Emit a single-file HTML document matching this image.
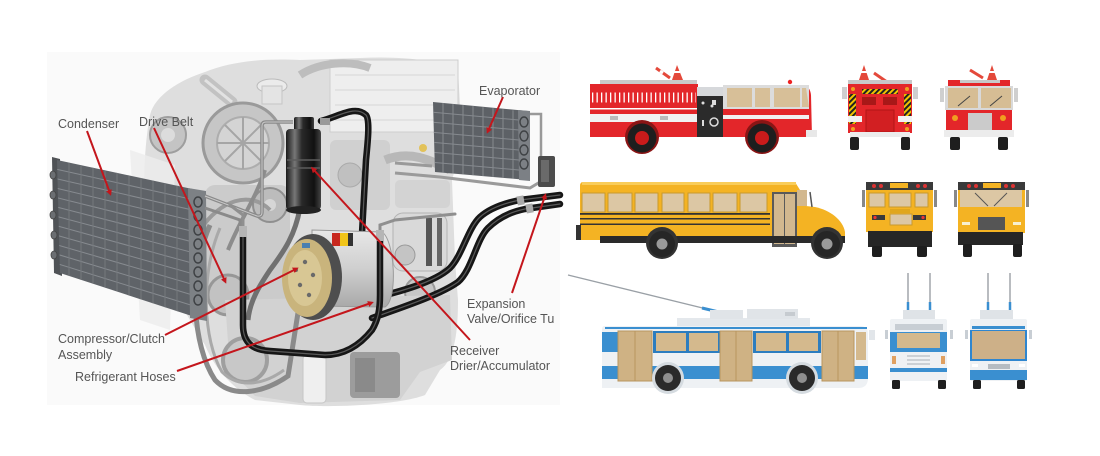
<!DOCTYPE html>
<html><head><meta charset="utf-8"><style>
html,body{margin:0;padding:0;background:#fff;}
svg{display:block;}
text{font-family:"Liberation Sans",sans-serif;font-size:12.5px;fill:#555;}
</style></head><body>
<svg width="1100" height="456" viewBox="0 0 1100 456" xmlns="http://www.w3.org/2000/svg">
<defs>
 <linearGradient id="rcv" x1="0" x2="1" y1="0" y2="0">
  <stop offset="0" stop-color="#1a1a1a"/><stop offset="0.25" stop-color="#777"/>
  <stop offset="0.45" stop-color="#2a2a2a"/><stop offset="0.8" stop-color="#111"/><stop offset="1" stop-color="#444"/>
 </linearGradient>
 <linearGradient id="comp" x1="0" x2="0" y1="0" y2="1">
  <stop offset="0" stop-color="#e8e8e8"/><stop offset="0.5" stop-color="#cfcfcf"/><stop offset="1" stop-color="#a9a9a9"/>
 </linearGradient>
 <pattern id="chev" width="4" height="4" patternUnits="userSpaceOnUse" patternTransform="rotate(45)">
  <rect width="4" height="4" fill="#f2c300"/><rect width="2" height="4" fill="#222"/>
 </pattern>
 <clipPath id="condClip"><polygon points="57,160 197,190 198,318 60,273"/></clipPath>
 <clipPath id="evapClip"><polygon points="433,102 520,111 520,179 435,172"/></clipPath>
 <marker id="ah" markerWidth="6" markerHeight="6" refX="3" refY="3" orient="auto" markerUnits="userSpaceOnUse">
  <path d="M0,0 L6,3 L0,6 Z" fill="#c4161c"/>
 </marker>
</defs>
<rect width="1100" height="456" fill="#fff"/>
<rect x="47" y="52" width="513" height="353" fill="#fafafa"/>

<!-- ===== ENGINE GHOST ===== -->
<path d="M150,115 C155,95 180,80 205,72 C230,62 260,58 300,60 L360,58 C400,56 440,60 458,70 L460,105 C462,130 458,160 452,180 L455,260 L458,300 C458,330 455,360 440,370 L425,395 C400,405 330,408 300,405 L255,400 C235,390 215,370 205,345 C190,320 165,280 150,240 C140,200 145,140 150,115 Z" fill="#dedede"/>
<path d="M130,150 L175,165 L170,330 L140,320 Z" fill="#ececec" opacity="0.8"/>
<rect x="330" y="60" width="128" height="72" fill="#eeeeee" stroke="#cdcdcd"/>
<g stroke="#d6d6d6"><line x1="335" y1="75" x2="455" y2="75"/><line x1="335" y1="90" x2="455" y2="90"/><line x1="335" y1="105" x2="455" y2="105"/><line x1="335" y1="120" x2="455" y2="120"/></g>
<path d="M300,75 C320,62 350,60 370,68" stroke="#bdbdbd" stroke-width="8" fill="none"/>
<path d="M205,80 L232,102" stroke="#c2c2c2" stroke-width="11" stroke-linecap="round"/>
<path d="M205,80 L232,102" stroke="#e2e2e2" stroke-width="3"/>
<circle cx="168" cy="135" r="18" fill="#c4c4c4" stroke="#9e9e9e" stroke-width="2"/>
<circle cx="168" cy="135" r="7" fill="#dcdcdc"/>
<circle cx="243" cy="143" r="40" fill="#c6c6c6" stroke="#9a9a9a" stroke-width="3"/>
<circle cx="243" cy="143" r="26" fill="#d4d4d4" stroke="#adadad" stroke-width="2"/>
<g stroke="#a5a5a5" stroke-width="2"><line x1="243" y1="117" x2="243" y2="169"/><line x1="217" y1="143" x2="269" y2="143"/><line x1="225" y1="125" x2="261" y2="161"/><line x1="261" y1="125" x2="225" y2="161"/></g>
<ellipse cx="272" cy="86" rx="15" ry="7" fill="#ebebeb" stroke="#bbb"/>
<rect x="262" y="86" width="20" height="18" fill="#e4e4e4" stroke="#c5c5c5"/>
<rect x="330" y="140" width="60" height="70" rx="6" fill="#d0d0d0"/>
<circle cx="350" cy="175" r="12" fill="#c0c0c0" stroke="#aaa"/>
<path d="M385,160 C410,150 430,160 450,170" stroke="#b8b8b8" stroke-width="9" fill="none"/>
<circle cx="423" cy="148" r="4" fill="#e2c25a"/>
<!-- extra mid-gray detail -->
<rect x="205" y="185" width="85" height="120" rx="10" fill="#cbcbcb"/>
<circle cx="270" cy="205" r="17" fill="#bcbcbc" stroke="#8f8f8f" stroke-width="2"/>
<circle cx="270" cy="205" r="6" fill="#d6d6d6"/>
<circle cx="228" cy="295" r="20" fill="#c2c2c2" stroke="#979797" stroke-width="3"/>
<circle cx="420" cy="292" r="15" fill="#c6c6c6" stroke="#9a9a9a" stroke-width="2"/>
<rect x="395" y="180" width="55" height="28" rx="5" fill="#d3d3d3"/>
<rect x="393" y="213" width="54" height="58" rx="10" fill="#d9d9d9" stroke="#b3b3b3"/>
<rect x="426" y="218" width="6" height="48" fill="#555"/><rect x="437" y="218" width="5" height="48" fill="#666"/>
<circle cx="405" cy="255" r="10" fill="#c4c4c4" stroke="#999"/>
<path d="M225,300 L450,295 L452,360 L420,372 L400,400 L300,403 L255,396 L230,370 Z" fill="#d2d2d2"/>
<circle cx="245" cy="360" r="22" fill="#c8c8c8" stroke="#9f9f9f" stroke-width="4"/>
<rect x="303" y="355" width="23" height="48" rx="4" fill="#efefef" stroke="#c6c6c6"/>
<rect x="350" y="352" width="50" height="46" rx="4" fill="#9c9c9c"/>
<rect x="355" y="358" width="20" height="34" fill="#8a8a8a"/>
<path d="M210,225 C188,275 192,345 215,380 C232,398 262,394 288,376 L300,300" stroke="#8a8a8a" stroke-width="5" fill="none"/>
<path d="M220,228 C200,275 203,340 222,372 C238,388 262,386 284,370" stroke="#a9a9a9" stroke-width="3" fill="none"/>
<path d="M200,230 C220,200 250,190 270,210" stroke="#9a9a9a" stroke-width="4" fill="none"/>
<path d="M300,208 C295,235 285,250 270,270 C260,285 250,300 248,320" stroke="#707070" stroke-width="5" fill="none"/>
<path d="M265,170 C255,200 240,220 228,250" stroke="#8c8c8c" stroke-width="4" fill="none"/>

<!-- ===== CONDENSER ===== -->
<polygon points="52,157 60,159 62,276 54,273" fill="#4f5256"/>
<g fill="#6b6e72" stroke="#444" stroke-width="0.8">
<ellipse cx="53" cy="175" rx="3" ry="4"/><ellipse cx="53" cy="195" rx="3" ry="4"/><ellipse cx="53" cy="215" rx="3" ry="4"/><ellipse cx="54" cy="235" rx="3" ry="4"/><ellipse cx="54" cy="255" rx="3" ry="4"/>
</g>
<polygon points="57,160 197,190 198,318 60,273" fill="#5f6368"/>
<g clip-path="url(#condClip)" stroke="#878b90" stroke-width="1">
<line x1="57" y1="169.4" x2="198" y2="200.7"/><line x1="57" y1="178.8" x2="198" y2="211.3"/><line x1="57" y1="188.3" x2="198" y2="222"/><line x1="57" y1="197.7" x2="198" y2="232.7"/><line x1="57" y1="207.1" x2="198" y2="243.3"/><line x1="57" y1="216.5" x2="198" y2="254"/><line x1="57" y1="225.9" x2="198" y2="264.7"/><line x1="57" y1="235.3" x2="198" y2="275.3"/><line x1="57" y1="244.8" x2="198" y2="286"/><line x1="57" y1="254.2" x2="198" y2="296.7"/><line x1="57" y1="263.6" x2="198" y2="307.3"/>
<g stroke="#74787d"><line x1="69" y1="150" x2="69" y2="330"/><line x1="81" y1="150" x2="81" y2="330"/><line x1="93" y1="150" x2="93" y2="330"/><line x1="105" y1="150" x2="105" y2="330"/><line x1="117" y1="150" x2="117" y2="330"/><line x1="129" y1="150" x2="129" y2="330"/><line x1="141" y1="150" x2="141" y2="330"/><line x1="153" y1="150" x2="153" y2="330"/><line x1="165" y1="150" x2="165" y2="330"/><line x1="177" y1="150" x2="177" y2="330"/></g>
</g>
<polygon points="188,188 206,191 207,321 190,318" fill="#7d8185"/>
<g fill="none" stroke="#3e4144" stroke-width="1.5">
<ellipse cx="198" cy="202" rx="4" ry="5"/><ellipse cx="198" cy="216" rx="4" ry="5"/><ellipse cx="198" cy="230" rx="4" ry="5"/><ellipse cx="198" cy="244" rx="4" ry="5"/><ellipse cx="198" cy="258" rx="4" ry="5"/><ellipse cx="198" cy="272" rx="4" ry="5"/><ellipse cx="198" cy="286" rx="4" ry="5"/><ellipse cx="198" cy="300" rx="4" ry="5"/>
</g>
<path d="M205,196 L257,216 Q262,217 262,212 L262,126 Q262,122 266,122 L293,122" stroke="#8a8a8a" stroke-width="3.5" fill="none"/>
<path d="M205,196 L257,216 Q262,217 262,212 L262,126 Q262,122 266,122 L293,122" stroke="#c9c9c9" stroke-width="1" fill="none"/>
<path d="M205,208 L240,220 L240,228" stroke="#8a8a8a" stroke-width="3" fill="none"/>

<!-- ===== EVAPORATOR ===== -->
<polygon points="433,102 528,111 528,180 435,172" fill="#5d6166"/>
<g clip-path="url(#evapClip)" stroke="#868a8f" stroke-width="1">
<line x1="430" y1="112" x2="530" y2="121"/><line x1="430" y1="122" x2="530" y2="131"/><line x1="430" y1="132" x2="530" y2="141"/><line x1="430" y1="142" x2="530" y2="151"/><line x1="430" y1="152" x2="530" y2="161"/><line x1="430" y1="162" x2="530" y2="171"/>
<line x1="443" y1="95" x2="443" y2="185"/><line x1="453" y1="95" x2="453" y2="185"/><line x1="463" y1="95" x2="463" y2="185"/><line x1="473" y1="95" x2="473" y2="185"/><line x1="483" y1="95" x2="483" y2="185"/><line x1="493" y1="95" x2="493" y2="185"/><line x1="503" y1="95" x2="503" y2="185"/><line x1="513" y1="95" x2="513" y2="185"/>
</g>
<polygon points="518,110 530,111 530,181 519,180" fill="#7c8085"/>
<g fill="none" stroke="#3e4144" stroke-width="1.4"><ellipse cx="524" cy="122" rx="4" ry="5"/><ellipse cx="524" cy="136" rx="4" ry="5"/><ellipse cx="524" cy="150" rx="4" ry="5"/><ellipse cx="524" cy="164" rx="4" ry="5"/></g>
<path d="M530,114 L541,114 L541,160" stroke="#999" stroke-width="2.5" fill="none"/>
<path d="M395,173 L440,177 L530,188 L540,182" stroke="#9a9a9a" stroke-width="3" fill="none"/>
<path d="M395,163 L432,166" stroke="#9a9a9a" stroke-width="3" fill="none"/>
<rect x="538" y="156" width="17" height="31" rx="2" fill="#4a4a4a"/>
<rect x="541" y="160" width="8" height="22" fill="#6a6a6a"/>

<!-- ===== HOSES ===== -->
<g fill="none" stroke-linecap="round">
<path d="M321,121 C340,116 355,105 366,115 C370,120 368,140 366,160 L360,270 C358,290 366,300 385,298" stroke="#161616" stroke-width="6.5"/>
<path d="M321,121 C340,116 355,105 366,115 C370,120 368,140 366,160 L360,270 C358,290 366,300 385,298" stroke="#5a5a5a" stroke-width="1.2"/>
<path d="M365,300 C400,292 435,282 450,268 C462,256 468,228 480,217 C490,208 505,203 520,200 L560,195" stroke="#161616" stroke-width="6.5"/>
<path d="M365,300 C400,292 435,282 450,268 C462,256 468,228 480,217 C490,208 505,203 520,200 L560,195" stroke="#5a5a5a" stroke-width="1.2"/>
<path d="M372,318 C400,308 440,295 458,282 C472,270 476,240 488,228 C498,218 510,212 525,209 L560,204" stroke="#161616" stroke-width="6.5"/>
<path d="M372,318 C400,308 440,295 458,282 C472,270 476,240 488,228 C498,218 510,212 525,209 L560,204" stroke="#5a5a5a" stroke-width="1.2"/>
</g>
<rect x="517" y="196" width="7" height="9" fill="#aaa" transform="rotate(-10 520 200)"/>
<rect x="526" y="204" width="7" height="9" fill="#aaa" transform="rotate(-10 529 208)"/>

<!-- ===== COMPRESSOR ===== -->
<path d="M312,230 L382,232 C395,240 398,300 385,307 L312,306 Z" fill="url(#comp)" stroke="#9a9a9a"/>
<rect x="332" y="233" width="8" height="13" fill="#c8281e"/><rect x="340" y="233" width="8" height="13" fill="#f0c419"/><rect x="348" y="233" width="5" height="13" fill="#333"/>
<ellipse cx="313" cy="277" rx="29" ry="43" fill="#4e4e4e"/>
<ellipse cx="307" cy="278" rx="25" ry="39" fill="#c9b47c"/>
<ellipse cx="305" cy="278" rx="17" ry="28" fill="#d8c794"/>
<g fill="#6a6a6a"><circle cx="305" cy="262" r="2.2"/><circle cx="313" cy="275" r="2.2"/><circle cx="300" cy="285" r="2.2"/><circle cx="309" cy="295" r="2.2"/><circle cx="296" cy="270" r="2"/></g>
<rect x="302" y="243" width="8" height="5" fill="#4a7fb0"/>

<g fill="none" stroke-linecap="round">
<path d="M243,232 L243,325 C243,345 255,350 270,351 L325,355 C345,355 360,345 372,330 C378,320 380,310 380,295 L380,240" stroke="#161616" stroke-width="6.5"/>
<path d="M243,232 L243,325 C243,345 255,350 270,351 L325,355 C345,355 360,345 372,330 C378,320 380,310 380,295 L380,240" stroke="#5a5a5a" stroke-width="1.2"/>
<path d="M380,232 L380,225 L395,220 L455,214" stroke="#8f8f8f" stroke-width="3"/>
<path d="M243,228 L243,215 L230,205" stroke="#8f8f8f" stroke-width="3"/>
</g>
<rect x="239" y="226" width="8" height="11" fill="#b5b5b5"/><rect x="376" y="230" width="8" height="11" fill="#b5b5b5"/>

<!-- ===== RECEIVER ===== -->
<rect x="294" y="117" width="20" height="14" rx="2" fill="url(#rcv)"/>
<rect x="286" y="129" width="35" height="81" rx="4" fill="url(#rcv)"/>
<ellipse cx="303.5" cy="210" rx="17.5" ry="4" fill="#222"/>
<line x1="287" y1="160" x2="320" y2="160" stroke="#5c5c5c" stroke-width="1.5"/>
<line x1="287" y1="168" x2="320" y2="168" stroke="#5c5c5c" stroke-width="1.5"/>
<rect x="320" y="118" width="10" height="7" fill="#9a9a9a"/>

<!-- ===== LEADER LINES ===== -->
<g stroke="#c4161c" stroke-width="2" fill="none" marker-end="url(#ah)">
<line x1="87" y1="131" x2="110" y2="193"/>
<line x1="154" y1="128" x2="225" y2="281"/>
<line x1="503" y1="97" x2="488" y2="131"/>
<line x1="512" y1="293" x2="545" y2="196"/>
<line x1="165" y1="335" x2="296" y2="269"/>
<line x1="177" y1="371" x2="371" y2="303"/>
<line x1="470" y1="340" x2="313" y2="169"/>
</g>

<text x="58" y="128">Condenser</text>
<text x="139" y="126">Drive Belt</text>
<text x="479" y="95">Evaporator</text>
<text x="467" y="308">Expansion</text>
<text x="467" y="323">Valve/Orifice Tu</text>
<text x="58" y="343">Compressor/Clutch</text>
<text x="58" y="359">Assembly</text>
<text x="75" y="381">Refrigerant Hoses</text>
<text x="450" y="355">Receiver</text>
<text x="450" y="370">Drier/Accumulator</text>

<!-- ===== FIRE TRUCK SIDE ===== -->
<polygon points="677,65 672,80 683,80" fill="#e4493b"/><rect x="674" y="71" width="6" height="2" fill="#fff"/>
<line x1="656" y1="68" x2="670" y2="78" stroke="#e4493b" stroke-width="3"/><line x1="660" y1="71" x2="663" y2="73" stroke="#fff" stroke-width="3"/>
<rect x="600" y="80" width="97" height="4" fill="#c9c9c9"/>
<rect x="590" y="84" width="108" height="53" fill="#e3262a"/>
<line x1="592" y1="97.5" x2="696" y2="97.5" stroke="#fff" stroke-width="10" stroke-dasharray="1.3 3.2"/>
<rect x="590" y="108" width="107" height="1.5" fill="#fff"/>
<rect x="590" y="114" width="107" height="8" fill="#f1f1f1"/>
<rect x="610" y="116" width="8" height="4" fill="#bbb"/><rect x="660" y="116" width="8" height="4" fill="#bbb"/>
<rect x="697" y="87" width="26" height="10" fill="#d6d8db"/>
<rect x="697" y="96" width="26" height="41" fill="#2b2b2b"/>
<g fill="#ddd"><circle cx="703" cy="103" r="1.5"/><circle cx="712" cy="106" r="1.5"/><rect x="712" y="100" width="4" height="5"/><circle cx="714" cy="122" r="4" fill="none" stroke="#ddd" stroke-width="1.5"/><rect x="702" y="120" width="2" height="6"/></g>
<path d="M723,85 L803,85 Q810,86 811,95 L812,137 L723,137 Z" fill="#e3262a"/>
<rect x="723" y="85" width="86" height="24" fill="#dcdcdc"/>
<rect x="727" y="88" width="25" height="19" fill="#d7bf98"/><rect x="755" y="88" width="15" height="19" fill="#d7bf98"/><rect x="774" y="88" width="26" height="19" fill="#d7bf98"/>
<polygon points="802,88 806,88 809,107 802,107" fill="#d7bf98"/>
<rect x="723" y="115" width="86" height="4" fill="#f1f1f1"/>
<rect x="806" y="130" width="11" height="7" fill="#e8e8e8"/>
<circle cx="790" cy="82" r="2.2" fill="#e22"/>
<circle cx="642" cy="137" r="17" fill="#8a1515"/><circle cx="762" cy="137" r="17" fill="#8a1515"/>
<circle cx="642" cy="138" r="14.5" fill="#1e1e1e"/><circle cx="642" cy="138" r="7" fill="#c91b1b"/>
<circle cx="762" cy="138" r="14.5" fill="#1e1e1e"/><circle cx="762" cy="138" r="7" fill="#c91b1b"/>

<!-- ===== FIRE TRUCK FRONT 1 ===== -->
<polygon points="864,65 859,80 869,80" fill="#e4493b"/><rect x="861" y="71" width="6" height="2" fill="#fff"/>
<line x1="874" y1="73" x2="887" y2="82" stroke="#e4493b" stroke-width="3"/>
<rect x="848" y="80" width="64" height="4" fill="#c8c8c8"/>
<rect x="848" y="84" width="64" height="49" fill="#e3262a"/>
<rect x="842" y="87" width="5" height="12" fill="#cfcfcf"/><rect x="913" y="87" width="5" height="12" fill="#cfcfcf"/>
<rect x="862" y="89" width="36" height="5" fill="url(#chev)"/>
<rect x="849" y="94" width="7" height="30" fill="url(#chev)"/><rect x="904" y="94" width="7" height="30" fill="url(#chev)"/>
<rect x="862" y="97" width="14" height="8" fill="#a81818"/><rect x="883" y="97" width="14" height="8" fill="#a81818"/>
<rect x="848" y="116" width="14" height="6" fill="#f2f2f2"/><rect x="898" y="116" width="14" height="6" fill="#f2f2f2"/>
<rect x="866" y="110" width="28" height="22" fill="#d21f22" stroke="#b21616"/>
<g fill="#f0a020"><circle cx="853" cy="89" r="2"/><circle cx="907" cy="89" r="2"/><circle cx="853" cy="129" r="2"/><circle cx="907" cy="129" r="2"/></g>
<rect x="850" y="132" width="60" height="5" fill="#ececec"/>
<rect x="850" y="137" width="9" height="13" rx="2" fill="#1e1e1e"/><rect x="901" y="137" width="9" height="13" rx="2" fill="#1e1e1e"/>

<!-- ===== FIRE TRUCK FRONT 2 ===== -->
<polygon points="992,65 987,80 997,80" fill="#e4493b"/><rect x="989" y="71" width="6" height="2" fill="#fff"/>
<line x1="970" y1="70" x2="983" y2="78" stroke="#e4493b" stroke-width="3"/>
<rect x="948" y="80" width="62" height="6" fill="#e3262a"/><rect x="960" y="80" width="40" height="3" fill="#c8c8c8"/>
<rect x="945" y="86" width="68" height="24" fill="#d9d9d9"/>
<rect x="948" y="88" width="30" height="20" fill="#d6bd94"/><rect x="981" y="88" width="30" height="20" fill="#d6bd94"/>
<line x1="958" y1="106" x2="970" y2="96" stroke="#444"/><line x1="990" y1="106" x2="1002" y2="96" stroke="#444"/>
<rect x="940" y="88" width="4" height="14" fill="#cfcfcf"/><rect x="1014" y="88" width="4" height="14" fill="#cfcfcf"/>
<rect x="946" y="110" width="66" height="22" fill="#e3262a"/>
<rect x="968" y="113" width="24" height="17" fill="#cbcbcb"/>
<circle cx="955" cy="118" r="3" fill="#f0a020"/><circle cx="1003" cy="118" r="3" fill="#f0a020"/>
<rect x="944" y="130" width="70" height="7" fill="#ececec"/>
<rect x="950" y="137" width="10" height="13" rx="2" fill="#1e1e1e"/><rect x="998" y="137" width="10" height="13" rx="2" fill="#1e1e1e"/>

<!-- ===== SCHOOL BUS SIDE ===== -->
<path d="M583,182 L795,182 L800,190 L800,240 L580,240 L580,186 Q580,182 583,182 Z" fill="#f4b323"/>
<rect x="582" y="182" width="214" height="3" fill="#f9cd5a"/>
<rect x="576" y="225" width="5" height="15" fill="#333"/>
<g fill="#dcc7a4" stroke="#c79a2c" stroke-width="1">
<rect x="582" y="193" width="23" height="19"/><rect x="608" y="193" width="24" height="19"/><rect x="635" y="193" width="23" height="19"/><rect x="662" y="193" width="22" height="19"/><rect x="688" y="193" width="22" height="19"/><rect x="713" y="193" width="24" height="19"/><rect x="740" y="193" width="27" height="19"/>
</g>
<rect x="580" y="213" width="190" height="1.8" fill="#333"/><rect x="580" y="218" width="190" height="1.5" fill="#333"/><rect x="580" y="223.5" width="190" height="1.5" fill="#333"/>
<rect x="772" y="192" width="25" height="55" fill="#5a5a5a"/>
<rect x="774" y="194" width="10" height="50" fill="#d2b88f"/><rect x="785" y="194" width="10" height="50" fill="#d2b88f"/>
<path d="M797,205 L815,207 C830,210 843,220 845,232 L845,240 L797,240 Z" fill="#f4b323"/>
<rect x="797" y="190" width="10" height="16" fill="#d2b88f"/>
<line x1="810" y1="192" x2="812" y2="207" stroke="#555" stroke-width="1.5"/>
<rect x="600" y="236" width="245" height="7" fill="#2a2a2a"/>
<circle cx="662" cy="243" r="16" fill="#333"/><circle cx="827" cy="243" r="16" fill="#333"/>
<circle cx="662" cy="244" r="13" fill="#262626"/><circle cx="662" cy="244" r="5.5" fill="#9a9a9a"/>
<circle cx="827" cy="244" r="13" fill="#262626"/><circle cx="827" cy="244" r="5.5" fill="#9a9a9a"/>

<!-- ===== SCHOOL BUS REAR ===== -->
<path d="M869,182 L929,182 Q933,182 933,186 L933,232 L866,232 L866,186 Q866,182 869,182 Z" fill="#f4b323"/>
<rect x="866" y="182" width="67" height="8" fill="#3a3a3a"/>
<circle cx="874" cy="186" r="2" fill="#d33"/><circle cx="881" cy="186" r="2" fill="#d33"/><circle cx="918" cy="186" r="2" fill="#d33"/><circle cx="925" cy="186" r="2" fill="#d33"/>
<rect x="890" y="183" width="18" height="5" fill="#f4b323"/>
<g fill="#dcc7a4" stroke="#c79a2c"><rect x="869" y="193" width="16" height="14"/><rect x="889" y="193" width="22" height="14"/><rect x="915" y="193" width="13" height="14"/></g>
<rect x="890" y="209" width="20" height="4" fill="#e0a61c"/>
<rect x="872" y="215" width="13" height="5" fill="#3a3a3a"/><rect x="913" y="215" width="13" height="5" fill="#3a3a3a"/>
<circle cx="875" cy="217.5" r="1.6" fill="#e33"/><circle cx="923" cy="217.5" r="1.6" fill="#e33"/>
<rect x="890" y="214" width="22" height="11" fill="#dcc7a4" stroke="#c79a2c"/>
<rect x="862" y="190" width="3" height="17" fill="#888"/><rect x="934" y="190" width="3" height="17" fill="#888"/>
<rect x="868" y="231" width="64" height="16" fill="#262626"/>
<rect x="872" y="246" width="10" height="11" rx="2" fill="#1e1e1e"/><rect x="917" y="246" width="10" height="11" rx="2" fill="#1e1e1e"/>

<!-- ===== SCHOOL BUS FRONT ===== -->
<path d="M961,182 L1021,182 Q1025,182 1025,186 L1025,233 L958,233 L958,186 Q958,182 961,182 Z" fill="#f4b323"/>
<rect x="958" y="182" width="67" height="8" fill="#3a3a3a"/>
<circle cx="969" cy="186" r="2" fill="#d33"/><circle cx="976" cy="186" r="2" fill="#d33"/><circle cx="1006" cy="186" r="2" fill="#d33"/><circle cx="1013" cy="186" r="2" fill="#d33"/>
<rect x="983" y="183" width="18" height="5" fill="#f4b323"/>
<rect x="960" y="190" width="62" height="17" fill="#dcc7a4"/>
<line x1="975" y1="193" x2="988" y2="206" stroke="#555"/><line x1="1007" y1="193" x2="994" y2="206" stroke="#555"/>
<rect x="954" y="190" width="3" height="17" fill="#888"/><rect x="1026" y="190" width="3" height="17" fill="#888"/>
<rect x="978" y="217" width="27" height="13" fill="#555"/>
<rect x="962" y="222" width="8" height="3" fill="#f8f0d0"/><rect x="1013" y="222" width="8" height="3" fill="#f8f0d0"/>
<rect x="958" y="232" width="65" height="13" fill="#262626"/>
<rect x="963" y="244" width="9" height="13" rx="2" fill="#1e1e1e"/><rect x="1013" y="244" width="9" height="13" rx="2" fill="#1e1e1e"/>

<!-- ===== TROLLEYBUS SIDE ===== -->
<line x1="568" y1="275" x2="723" y2="313" stroke="#9aa0a6" stroke-width="1.3"/>
<line x1="702" y1="308" x2="723" y2="313" stroke="#3a8fd0" stroke-width="3"/>
<rect x="677" y="318" width="133" height="8" fill="#e4e8ec"/>
<rect x="710" y="310" width="33" height="9" fill="#e0e4e8"/>
<rect x="747" y="309" width="51" height="10" fill="#e0e4e8"/><rect x="785" y="312" width="10" height="4" fill="#c6cbd0"/>
<path d="M605,326 L860,326 Q868,326 868,334 L868,378 Q868,388 858,388 L602,388 L602,329 Q602,326 605,326 Z" fill="#eef1f4"/>
<rect x="605" y="327" width="262" height="2" fill="#3a8fd0"/>
<rect x="602" y="332" width="16" height="20" fill="#3a8fd0"/>
<rect x="602" y="366" width="266" height="13" fill="#3a8fd0"/>
<rect x="653" y="331" width="68" height="22" fill="#2c7dbf"/><rect x="753" y="331" width="68" height="22" fill="#2c7dbf"/>
<g fill="#d4b98d"><rect x="656" y="333" width="30" height="18"/><rect x="689" y="333" width="29" height="18"/><rect x="756" y="333" width="30" height="18"/><rect x="789" y="333" width="29" height="18"/></g>
<g fill="#cfb284" stroke="#b8955e"><rect x="618" y="331" width="17" height="50"/><rect x="635" y="331" width="17" height="50"/><rect x="720" y="331" width="16" height="50"/><rect x="736" y="331" width="16" height="50"/><rect x="822" y="331" width="16" height="50"/><rect x="838" y="331" width="16" height="50"/></g>
<rect x="856" y="332" width="10" height="28" fill="#d4b98d"/>
<rect x="869" y="330" width="6" height="10" fill="#e2e6ea"/>
<circle cx="668" cy="378" r="16" fill="#d5dbe0"/><circle cx="802" cy="378" r="16" fill="#d5dbe0"/>
<circle cx="668" cy="378" r="13" fill="#2a2a2a"/><circle cx="668" cy="378" r="5" fill="#8f8f8f"/>
<circle cx="802" cy="378" r="13" fill="#2a2a2a"/><circle cx="802" cy="378" r="5" fill="#8f8f8f"/>

<!-- ===== TROLLEYBUS FRONT 1 ===== -->
<line x1="908" y1="273" x2="908" y2="312" stroke="#8a9096" stroke-width="1.2"/><line x1="930" y1="273" x2="930" y2="312" stroke="#8a9096" stroke-width="1.2"/>
<line x1="908" y1="302" x2="908" y2="312" stroke="#3a8fd0" stroke-width="2.5"/><line x1="930" y1="302" x2="930" y2="312" stroke="#3a8fd0" stroke-width="2.5"/>
<rect x="903" y="310" width="32" height="10" fill="#dfe3e7"/>
<rect x="890" y="319" width="57" height="62" rx="2" fill="#eef1f4"/>
<rect x="895" y="324" width="48" height="6" fill="#c8ced4"/>
<rect x="890" y="332" width="57" height="20" fill="#3a8fd0"/>
<rect x="897" y="333" width="43" height="15" fill="#d4b98d"/>
<g stroke="#b6bcc2" stroke-width="1.2"><line x1="907" y1="356" x2="930" y2="356"/><line x1="907" y1="360" x2="930" y2="360"/><line x1="907" y1="364" x2="930" y2="364"/></g>
<rect x="892" y="356" width="4" height="8" fill="#e0a060"/><rect x="941" y="356" width="4" height="8" fill="#e0a060"/>
<rect x="890" y="368" width="57" height="4" fill="#3a8fd0"/>
<rect x="885" y="330" width="3" height="9" fill="#c8ced4"/><rect x="950" y="330" width="3" height="9" fill="#c8ced4"/>
<rect x="892" y="380" width="8" height="9" rx="1.5" fill="#1e1e1e"/><rect x="938" y="380" width="8" height="9" rx="1.5" fill="#1e1e1e"/>

<!-- ===== TROLLEYBUS FRONT 2 ===== -->
<line x1="988" y1="273" x2="988" y2="312" stroke="#8a9096" stroke-width="1.2"/><line x1="1010" y1="273" x2="1010" y2="312" stroke="#8a9096" stroke-width="1.2"/>
<line x1="988" y1="302" x2="988" y2="312" stroke="#3a8fd0" stroke-width="2.5"/><line x1="1010" y1="302" x2="1010" y2="312" stroke="#3a8fd0" stroke-width="2.5"/>
<rect x="980" y="310" width="33" height="10" fill="#dfe3e7"/>
<rect x="970" y="319" width="57" height="62" rx="2" fill="#eef1f4"/>
<rect x="972" y="326" width="53" height="3" fill="#3a8fd0"/>
<rect x="970" y="330" width="57" height="31" fill="#2f86cf"/>
<rect x="972" y="331" width="53" height="28" fill="#cdb088"/>
<rect x="965" y="330" width="3" height="9" fill="#c8ced4"/><rect x="1029" y="330" width="3" height="9" fill="#c8ced4"/>
<rect x="988" y="364" width="22" height="5" fill="#b6bcc2"/>
<rect x="972" y="364" width="6" height="3" fill="#fff"/><rect x="1019" y="364" width="6" height="3" fill="#fff"/>
<rect x="970" y="370" width="57" height="10" fill="#3a8fd0"/>
<rect x="973" y="380" width="8" height="9" rx="1.5" fill="#1e1e1e"/><rect x="1017" y="380" width="8" height="9" rx="1.5" fill="#1e1e1e"/>
</svg>
</body></html>
